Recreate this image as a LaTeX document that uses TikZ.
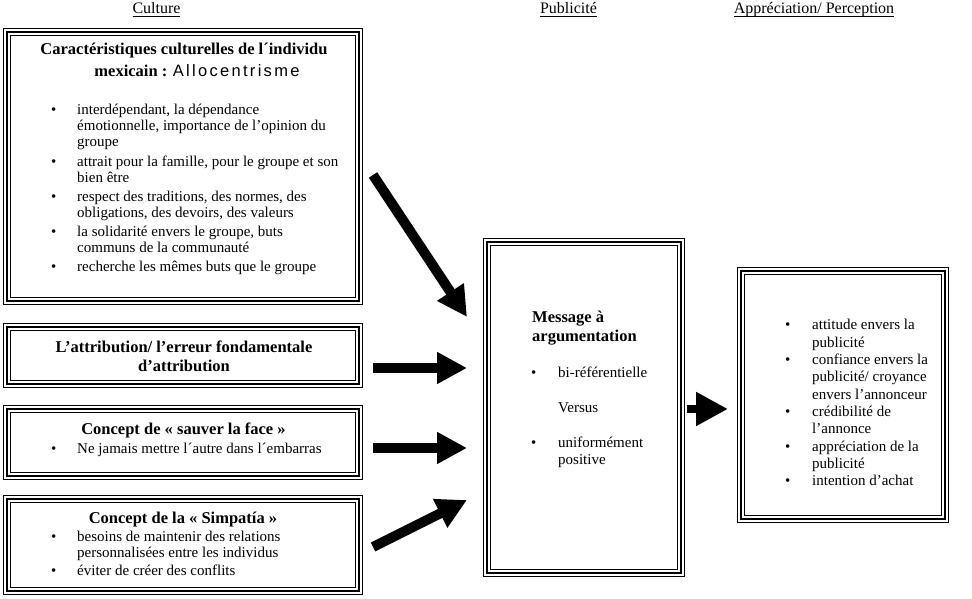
\documentclass[tikz,border=0pt]{standalone}
\usepackage{fontspec}
\setmainfont{Liberation Serif}
\newfontfamily\allofont{Liberation Sans}[LetterSpace=14]
\usetikzlibrary{arrows.meta}
\newcommand{\bl}{\textbullet}
\newcommand{\hdr}[1]{\setbox0\hbox{#1}\rlap{\rule[-3pt]{\wd0}{0.7pt}}\box0}

\begin{document}
\begin{tikzpicture}[
  x=1pt, y=1pt,
  every node/.style={inner sep=0pt},
  frame/.style={draw, line width=2pt, outer sep=0pt, minimum width=352pt,
    preaction={draw, line width=8pt}, preaction={draw, white, line width=6.4pt}},
  head/.style={font=\fontsize{16}{19}\selectfont, anchor=base},
  title/.style={font=\fontsize{16.5}{18.7}\selectfont\bfseries, anchor=base},
  list/.style={font=\fontsize{15}{16}\selectfont, anchor=base west},
  bigarrow/.style={-{Triangle[length=30pt,width=30pt]}, line width=10pt},
  smallarrow/.style={-{Triangle[length=32pt,width=32pt]}, line width=8pt}
]
  \useasboundingbox (0,0) rectangle (972,599);

  % Column headings.
  \node[head] (hCult) at (156.5,585) {\hdr{Culture}};
  \node[head] (hPub) at (568.5,585) {\hdr{Publicité}};
  \node[head] (hPerc) at (814,585) {\hdr{Appréciation/ Perception}};

  % Frames.
  \node[frame, minimum height=269pt] (cult) at (183,432.5) {};
  \node[frame, minimum height=57pt] (attr) at (183,243.5) {};
  \node[frame, minimum height=67pt] (face) at (183,156.5) {};
  \node[frame, minimum height=92pt] (simp) at (183,54) {};
  \node[frame, minimum width=194pt, minimum height=331pt] (msg) at (584,191.5) {};
  \node[frame, minimum width=204pt, minimum height=248pt] (res) at (843,204) {};

  % Culture side.
  \node[title, font=\fontsize{16.5}{21.7}\selectfont\bfseries] (cultTitle) at (184,544)
    {\begin{tabular}[t]{@{}c@{}}Caractéristiques culturelles de l´individu\\\hspace*{26pt}mexicain : {\allofont\mdseries Allocentrisme}\end{tabular}};
  \node[list] (cultList) at (51,484) {\begin{tabular}[t]{@{}p{26pt}@{}l@{}}
    \bl & interdépendant, la dépendance\\
        & émotionnelle, importance de l’opinion du\\
        & groupe\\[3.2pt]
    \bl & attrait pour la famille, pour le groupe et son\\
        & bien être\\[3.2pt]
    \bl & respect des traditions, des normes, des\\
        & obligations, des devoirs, des valeurs\\[3.2pt]
    \bl & la solidarité envers le groupe, buts\\
        & communs de la communauté\\[3.2pt]
    \bl & recherche les mêmes buts que le groupe
  \end{tabular}};

  \node[title] (attrTitle) at (184,246)
    {\begin{tabular}[t]{@{}c@{}}L’attribution/ l’erreur fondamentale\\d’attribution\end{tabular}};

  \node[title] (faceTitle) at (183.5,164) {Concept de « sauver la face »};
  \node[list] (faceList) at (51,145.7) {\begin{tabular}[t]{@{}p{26pt}@{}l@{}}
    \bl & Ne jamais mettre l´autre dans l´embarras
  \end{tabular}};

  \node[title] (simpTitle) at (183,75.7) {Concept de la « Simpatía »};
  \node[list] (simpList) at (51,57.3) {\begin{tabular}[t]{@{}p{26pt}@{}l@{}}
    \bl & besoins de maintenir des relations\\
        & personnalisées entre les individus\\[2.3pt]
    \bl & éviter de créer des conflits
  \end{tabular}};

  % Message.
  \node[title, anchor=base west] (msgTitle) at (532,276)
    {\begin{tabular}[t]{@{}l@{}}Message à\\argumentation\end{tabular}};
  \node[list, font=\fontsize{15}{17.3}\selectfont] (msgList) at (531,221) {\begin{tabular}[t]{@{}p{27pt}@{}l@{}}
    \bl & bi-référentielle\\
        & \\
        & Versus\\
        & \\
    \bl & uniformément\\
        & positive
  \end{tabular}};

  % Perception.
  \node[list, font=\fontsize{15}{17.33}\selectfont] (resList) at (785,269) {\begin{tabular}[t]{@{}p{27pt}@{}l@{}}
    \bl & attitude envers la\\
        & publicité\\
    \bl & confiance envers la\\
        & publicité/ croyance\\
        & envers l’annonceur\\
    \bl & crédibilité de\\
        & l’annonce\\
    \bl & appréciation de la\\
        & publicité\\
    \bl & intention d’achat
  \end{tabular}};

  % Arrows into the message.
  \draw[bigarrow] ([xshift=14pt,yshift=-8.5pt]cult.east) -- ([xshift=-20pt,yshift=-75pt]msg.north west);
  \draw[bigarrow, shorten <=14pt, shorten >=20pt] ([yshift=-12.5pt]attr.east) -- ([yshift=39.5pt]msg.west);
  \draw[bigarrow, shorten <=14pt, shorten >=20pt] ([yshift=-5.5pt]face.east) -- ([yshift=-40.5pt]msg.west);
  \draw[bigarrow] ([xshift=14pt,yshift=-2pt]simp.east) -- ([xshift=-20pt,yshift=73pt]msg.south west);
  \draw[smallarrow, shorten <=6pt, shorten >=13pt] ([yshift=-1.5pt]msg.east) -- ([yshift=-14pt]res.west);
\end{tikzpicture}
\end{document}
